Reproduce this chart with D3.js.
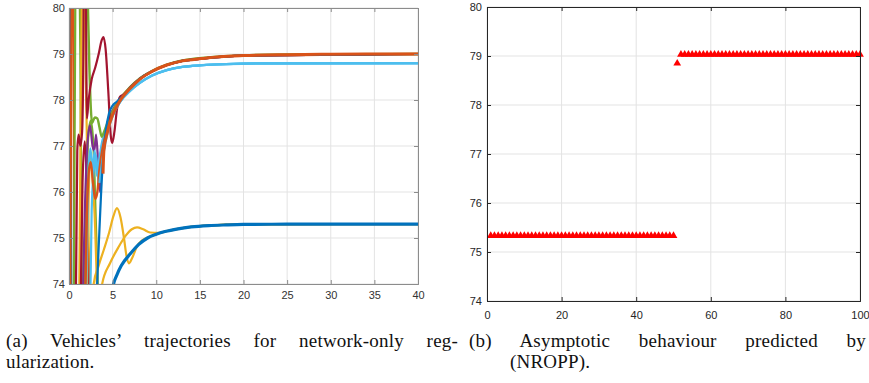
<!DOCTYPE html>
<html lang="en">
<head>
<meta charset="UTF-8">
<script src="https://cdn.jsdelivr.net/npm/d3@7"></script>
<style>
  body { margin: 0; background: #fff; }
  .tick text { font-family: "Liberation Sans", Arial, sans-serif; font-size: 11px; }
  .caption { font-family: "Liberation Serif", "DejaVu Serif", serif; font-size: 19px; letter-spacing: 0.2px; fill: #111; }
</style>
</head>
<body>
<svg width="869" height="383"></svg>
<script>
// ---- values ----
var yTicks = [74, 75, 76, 77, 78, 79, 80];
var xTicksA = [0, 5, 10, 15, 20, 25, 30, 35, 40];
var xTicksB = [0, 20, 40, 60, 80, 100];

// (a) vehicle trajectories, [time, position]
var blueEdge    = [[0,76.5],[0.07,81],[0.17,81],[0.27,73],[0.4,72]];
var orangeEdge  = [[0.15,73],[0.35,81],[0.5,81],[0.6,74],[0.7,72]];
var greenEdge   = [[0.5,72],[0.75,81],[1.0,82],[1.3,79],[1.45,74.5],[1.6,72]];
var yellowEdge  = [[1.1,72],[1.4,79],[1.6,81],[1.8,80],[2.1,76.5],[2.35,74],[2.5,72.5]];
var redSpag     = [[1.2,72],[1.55,76.2],[1.8,77.1],[2.0,76.4],[2.2,74.5],[2.35,72.5]];
var greenSpag   = [[1.6,72],[1.9,75],[2.2,77.2],[2.5,77.55],[2.8,77.0],[3.1,75.2],[3.3,74],[3.5,73]];
var yellowSpag  = [[1.9,72],[2.2,75.5],[2.45,76.8],[2.7,76.3],[3.0,75.2],[3.2,74.0],[3.35,73]];
var orangeSpag  = [[1.7,72],[2.05,75.5],[2.3,76.5],[2.5,76.65],[2.75,76.2],[3.0,75.85],[3.25,76.0],[3.5,76.5],[3.8,76.9],[4.2,77.25],[4.7,77.55],[5.2,77.78],[5.85,78.02],[7,78.25],[8.1,78.45],[9.5,78.62],[11.2,78.76],[13,78.85],[15.2,78.9],[20,78.965],[40,79.0]];
var cyanSpag    = [[1.9,73],[2.2,76.3],[2.45,76.95],[2.7,76.5],[2.95,76.9],[3.2,76.35],[3.45,76.7],[3.8,77.1],[4.3,77.4],[5.0,77.65],[5.85,77.96],[7,78.2],[8.1,78.37],[9.5,78.53],[11.2,78.65],[13,78.72],[15.2,78.755],[18,78.78],[22,78.795],[40,78.8]];
var cyanSpag2   = [[2.3,72],[2.6,75.6],[2.85,76.5],[3.1,76.8],[3.4,76.2],[3.7,76.8],[4.1,77.25],[4.6,77.5],[5.2,77.75],[5.85,77.96],[7,78.2],[8.1,78.37],[9.5,78.53],[11.2,78.65],[13,78.72],[15.2,78.755],[18,78.78],[22,78.795],[40,78.8]];
var purpleSpag  = [[1.4,72],[1.8,75.5],[2.1,77.0],[2.4,77.45],[2.7,77.0],[2.9,76.9],[3.1,77.25],[3.35,76.6],[3.55,76.0],[3.8,76.7],[4.2,77.3],[4.7,77.65],[5.3,77.88],[5.85,78.02],[7,78.26],[8.1,78.46],[9.5,78.62],[11.2,78.76],[13,78.85],[15.2,78.9],[20,78.965],[40,79.0]];
var yellowA     = [[2.6,72.5],[2.83,74.0],[3.4,74.4],[4.0,74.75],[4.6,75.12],[5.1,75.48],[5.5,75.65],[5.9,75.45],[6.3,75.0],[6.6,74.6],[6.85,74.45],[7.2,74.55],[7.8,74.82],[8.4,74.95],[9.2,75.02],[10,75.08],[11,75.14],[12.5,75.2],[14,75.24],[16,75.27],[20,75.295],[40,75.3]];
var yellowB     = [[3.4,73.5],[3.8,74.0],[4.7,74.45],[5.7,74.81],[6.5,75.05],[7.2,75.19],[7.8,75.23],[8.5,75.19],[9.3,75.12],[10.3,75.11],[11,75.14],[12.5,75.2],[14,75.24],[16,75.27],[20,75.295],[40,75.3]];
var greenMain   = [[2.05,81],[2.35,78.6],[2.65,77.5],[2.95,77.62],[3.25,77.6],[3.5,77.4],[3.75,77.2],[4.0,77.3],[4.5,77.55],[5.0,77.75],[5.5,77.92],[6.0,78.06],[7,78.28],[8.1,78.47],[9.5,78.63],[11.2,78.77],[13,78.86],[15.2,78.915],[17.3,78.945],[20,78.97],[25,78.99],[40,79.0]];
var darkRed     = [[0.75,73],[0.95,76.9],[1.1,77.25],[1.3,77.0],[1.5,77.3],[1.62,78.5],[1.72,81],[1.9,81],[2.05,77.6],[2.25,78.0],[2.6,78.45],[3.0,78.7],[3.4,79.0],[3.75,79.3],[3.95,79.37],[4.2,79.1],[4.5,78.2],[4.8,77.2],[4.95,77.07],[5.2,77.3],[5.5,77.8],[5.85,78.07],[6.3,78.12],[7,78.27],[8.1,78.46],[9.5,78.62],[11.2,78.76],[13,78.85],[15.2,78.9],[20,78.965],[40,79.0]];
var lightBlue   = [[3.5,76.2],[4.0,76.9],[4.5,77.35],[5.0,77.65],[5.85,77.96],[7,78.2],[8.1,78.37],[9.5,78.53],[11.2,78.65],[13,78.72],[15.2,78.755],[18,78.78],[22,78.795],[40,78.8]];
var blueSpag    = [[3.0,73],[3.4,74.8],[3.8,76.4],[4.2,77.3],[4.6,77.72],[5.0,77.88],[5.4,77.95],[5.85,78.03],[7,78.26],[8.1,78.46],[9.5,78.62],[11.2,78.76],[13,78.85],[15.2,78.9],[20,78.965],[40,79.0]];
var orangeMain  = [[3.9,76.4],[4.0,76.9],[4.4,77.3],[5.0,77.68],[5.5,77.87],[6.0,78.03],[7,78.25],[8.1,78.45],[9.5,78.62],[11.2,78.76],[13,78.85],[15.2,78.9],[17.3,78.94],[20,78.965],[25,78.985],[30,78.995],[40,79.0]];
var blueMain    = [[4.6,73.2],[5.0,73.9],[5.5,74.2],[6,74.4],[7,74.65],[8,74.86],[9,75.0],[10,75.08],[11,75.14],[12.5,75.2],[14,75.24],[16,75.27],[18,75.285],[20,75.295],[25,75.3],[40,75.3]];

// (b) predicted asymptotic positions, one per vehicle (1..100)
var predicted = [
  75.33,75.33,75.33,75.33,75.33,75.33,75.33,75.33,75.33,75.33,
  75.33,75.33,75.33,75.33,75.33,75.33,75.33,75.33,75.33,75.33,
  75.33,75.33,75.33,75.33,75.33,75.33,75.33,75.33,75.33,75.33,
  75.33,75.33,75.33,75.33,75.33,75.33,75.33,75.33,75.33,75.33,
  75.33,75.33,75.33,75.33,75.33,75.33,75.33,75.33,75.33,75.33,
  78.85,79.03,79.03,79.03,79.03,79.03,79.03,79.03,79.03,79.03,
  79.03,79.03,79.03,79.03,79.03,79.03,79.03,79.03,79.03,79.03,
  79.03,79.03,79.03,79.03,79.03,79.03,79.03,79.03,79.03,79.03,
  79.03,79.03,79.03,79.03,79.03,79.03,79.03,79.03,79.03,79.03,
  79.03,79.03,79.03,79.03,79.03,79.03,79.03,79.03,79.03,79.03
];

var captionA = ["(a) Vehicles’ trajectories for network-only reg-", "ularization."];
var captionB = ["(b) Asymptotic behaviour predicted by", "(NROPP)."];

var svg = d3.select("svg");

// light grid behind the data
function drawGrid(x, y, xTicks) {
  var g = svg.append("g");
  var x0 = x.range()[0], x1 = x.range()[1], y0 = y.range()[0], y1 = y.range()[1];
  g.selectAll(".gx").data(xTicks).enter().append("line")
    .attr("x1", function(d) { return x(d); }).attr("x2", function(d) { return x(d); })
    .attr("y1", y0).attr("y2", y1)
    .attr("stroke", "#e3e3e3").attr("stroke-width", 1);
  g.selectAll(".gy").data(yTicks).enter().append("line")
    .attr("x1", x0).attr("x2", x1)
    .attr("y1", function(d) { return y(d); }).attr("y2", function(d) { return y(d); })
    .attr("stroke", "#e3e3e3").attr("stroke-width", 1);
}

// box with inward ticks on all four sides (MATLAB look)
function drawFrame(x, y, xTicks, axisColor, textColor, xPad, yPad) {
  var x0 = x.range()[0], x1 = x.range()[1], y0 = y.range()[0], y1 = y.range()[1];
  var fmt = d3.format("d");
  var axes = [
    svg.append("g").attr("transform", "translate(0," + y0 + ")")
      .call(d3.axisBottom(x).tickValues(xTicks).tickSize(-4).tickPadding(xPad).tickFormat(fmt)),
    svg.append("g").attr("transform", "translate(0," + y1 + ")")
      .call(d3.axisTop(x).tickValues(xTicks).tickSize(-4).tickFormat("")),
    svg.append("g").attr("transform", "translate(" + x0 + ",0)")
      .call(d3.axisLeft(y).tickValues(yTicks).tickSize(-4).tickPadding(yPad).tickFormat(fmt)),
    svg.append("g").attr("transform", "translate(" + x1 + ",0)")
      .call(d3.axisRight(y).tickValues(yTicks).tickSize(-4).tickFormat(""))
  ];
  axes.forEach(function(a) {
    a.select(".domain").attr("stroke", axisColor).attr("stroke-width", 1);
    a.selectAll(".tick line").attr("stroke", axisColor);
    a.selectAll(".tick text").attr("fill", textColor);
  });
}

// ---- panel (a) ----
var xA = d3.scaleLinear().domain([0, 40]).range([69, 418]);
var yA = d3.scaleLinear().domain([74, 80]).range([284, 8]);
drawGrid(xA, yA, xTicksA);

svg.append("clipPath").attr("id", "clipA").append("rect")
  .attr("x", 69).attr("y", 8).attr("width", 349).attr("height", 276);

var trajectories = [
  { pts: blueEdge,   color: "#0072BD", w: 2.2 },
  { pts: orangeEdge, color: "#D95319", w: 2.2 },
  { pts: greenEdge,  color: "#77AC30", w: 2.2 },
  { pts: yellowEdge, color: "#EDB120", w: 2.2 },
  { pts: redSpag,    color: "#A2142F", w: 2.2 },
  { pts: greenSpag,  color: "#77AC30", w: 2.2 },
  { pts: yellowSpag, color: "#EDB120", w: 2.2 },
  { pts: purpleSpag, color: "#7E2F8E", w: 2.2 },
  { pts: cyanSpag,   color: "#4DBEEE", w: 2.2 },
  { pts: cyanSpag2,  color: "#4DBEEE", w: 2.2 },
  { pts: orangeSpag, color: "#D95319", w: 2.4 },
  { pts: yellowA,    color: "#EDB120", w: 2.2 },
  { pts: yellowB,    color: "#EDB120", w: 2.2 },
  { pts: greenMain,  color: "#77AC30", w: 2.4 },
  { pts: darkRed,    color: "#A2142F", w: 2.2 },
  { pts: lightBlue,  color: "#4DBEEE", w: 2.4 },
  { pts: blueSpag,   color: "#0072BD", w: 2.2 },
  { pts: orangeMain, color: "#D95319", w: 3 },
  { pts: blueMain,   color: "#0072BD", w: 3.2 }
];

var line = d3.line()
  .x(function(d) { return xA(d[0]); })
  .y(function(d) { return yA(d[1]); })
  .curve(d3.curveMonotoneX);

svg.append("g").attr("clip-path", "url(#clipA)")
  .selectAll("path").data(trajectories).enter().append("path")
  .attr("d", function(d) { return line(d.pts); })
  .attr("fill", "none")
  .attr("stroke", function(d) { return d.color; })
  .attr("stroke-width", function(d) { return d.w; })
  .attr("stroke-linejoin", "round");

drawFrame(xA, yA, xTicksA, "#8c8c8c", "#333", 7, 4);

// ---- panel (b) ----
var xB = d3.scaleLinear().domain([0, 100]).range([487, 860]);
var yB = d3.scaleLinear().domain([74, 80]).range([301, 7]);
drawGrid(xB, yB, xTicksB);

svg.append("g").selectAll("path").data(predicted).enter().append("path")
  .attr("transform", function(d, i) { return "translate(" + xB(i + 1) + "," + yB(d) + ")"; })
  .attr("d", d3.symbol().type(d3.symbolTriangle).size(26))
  .attr("fill", "#ff0000");

drawFrame(xB, yB, xTicksB, "#262626", "#262626", 10, 5);

// ---- captions: first line justified by stretching word gaps ----
function caption(lines, x1, x2, xEnd) {
  var t = svg.append("text").attr("class", "caption").attr("x", x1).attr("y", 347).text(lines[0]);
  var natural = t.node().getComputedTextLength();
  var gaps = lines[0].split(" ").length - 1;
  t.attr("word-spacing", Math.max(0, (xEnd - x1 - natural) / gaps));
  svg.append("text").attr("class", "caption").attr("x", x2).attr("y", 368).text(lines[1]);
}
caption(captionA, 6, 6, 458);
caption(captionB, 469, 510, 866);
</script>
</body>
</html>
